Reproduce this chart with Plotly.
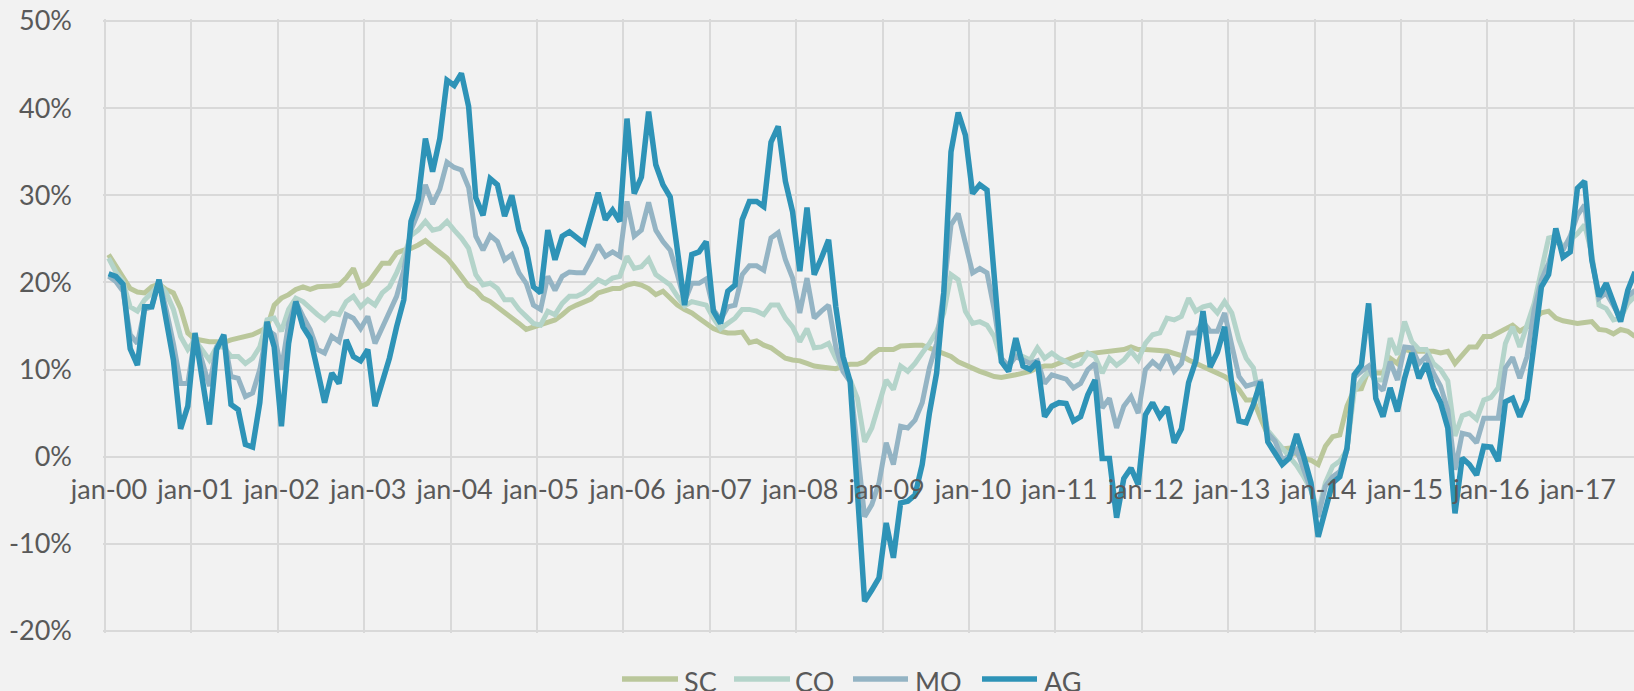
import plotly.graph_objects as go

# ---------------- data ----------------
MONTHS = ["jan", "feb", "mar", "apr", "maj", "jun", "jul", "aug", "sep", "okt", "nov", "dec"]
YEARS = list(range(0, 18))
categories = [f"{mo}-{y:02d}" for y in YEARS for mo in MONTHS][:213]
TICK_LABELS = [f"jan-{y:02d}" for y in YEARS]

SC = [23.2, 21.9, 20.7, 19.3, 18.9, 18.8, 19.5, 19.8, 19.2, 18.8, 17.0, 14.2,
      13.5, 13.3, 13.2, 13.2, 13.1, 13.4, 13.6, 13.7, 14.0, 14.4, 14.8, 17.4,
      18.2, 18.6, 19.2, 19.5, 19.2, 19.5, 19.5, 19.6, 19.7, 20.5, 21.6, 19.5,
      19.9, 21.1, 22.2, 22.2, 23.4, 23.7, 23.9, 24.3, 24.8, 24.1, 23.5, 22.8,
      21.8, 20.7, 19.6, 19.1, 18.2, 17.8, 17.2, 16.5, 15.9, 15.3, 14.6, 14.9,
      15.1, 15.5, 15.7, 16.3, 17.0, 17.4, 17.7, 18.1, 18.8, 19.1, 19.3, 19.3,
      19.7, 19.9, 19.7, 19.3, 18.6, 19.0, 18.2, 17.4, 16.9, 16.5, 15.9, 15.3,
      14.7, 14.4, 14.2, 14.2, 14.3, 13.1, 13.3, 12.8, 12.5, 11.9, 11.3, 11.1,
      11.0, 10.7, 10.4, 10.3, 10.2, 10.1, 10.4, 10.6, 10.6, 10.9, 11.7, 12.3,
      12.3, 12.3, 12.7, 12.8, 12.8, 12.8, 12.5, 12.1, 11.8, 11.5, 10.9, 10.5,
      10.1, 9.8, 9.5, 9.2, 9.1, 9.2, 9.4, 9.6, 9.8, 10.2, 10.4, 10.4,
      10.7, 11.0, 11.4, 11.7, 11.8, 11.9, 12.0, 12.2, 12.3, 12.3, 12.6, 12.3,
      12.3, 12.3, 12.2, 12.1, 11.8, 11.6, 11.1, 10.7, 10.4, 10.0, 9.5, 9.2,
      8.6, 7.7, 6.5, 6.5, 4.4, 2.5, 1.8, 0.9, 1.0, 0.3, -0.2, -0.4,
      -0.9, 1.2, 2.3, 2.5, 5.8, 7.7, 7.8, 10.0, 9.6, 9.6, 11.3, 10.7,
      12.3, 12.1, 12.1, 12.1, 12.1, 11.9, 12.1, 10.7, 11.7, 12.6, 12.6, 13.8,
      13.8, 14.2, 14.6, 15.1, 14.4, 14.9, 15.9, 16.5, 16.7, 15.9, 15.6, 15.4,
      15.3, 15.4, 15.5, 14.6, 14.5, 14.1, 14.6, 14.4, 13.8]

CO = [22.8, 21.2, 20.1, 17.2, 16.7, 18.0, 18.8, 19.9, 18.8, 16.9, 13.8, 12.3,
      13.4, 12.3, 11.1, 12.6, 12.6, 11.5, 11.5, 10.7, 11.3, 12.6, 15.7, 15.9,
      14.4, 16.9, 18.2, 17.8, 17.0, 16.3, 15.7, 16.5, 16.3, 17.8, 18.4, 17.2,
      18.0, 17.4, 18.8, 19.5, 21.1, 23.0, 25.4, 26.0, 27.0, 26.0, 26.2, 27.0,
      26.0, 25.1, 23.9, 20.9, 19.7, 19.9, 19.3, 18.0, 18.0, 16.9, 16.1, 15.3,
      15.1, 16.7, 16.3, 17.6, 18.4, 18.4, 18.8, 19.5, 20.3, 19.9, 20.5, 20.7,
      23.0, 21.6, 21.8, 22.7, 20.9, 20.3, 19.7, 18.4, 17.3, 17.8, 17.6, 17.4,
      15.9, 14.7, 15.3, 15.9, 16.9, 16.9, 16.7, 16.3, 17.4, 17.4, 15.9, 14.9,
      13.2, 14.7, 12.5, 12.6, 13.0, 11.3, 10.0, 8.8, 6.7, 1.7, 3.3, 6.2,
      8.8, 7.7, 10.4, 9.8, 10.7, 11.9, 13.0, 14.4, 16.5, 20.9, 20.3, 16.7,
      15.3, 15.5, 15.1, 13.8, 11.1, 10.4, 11.7, 11.5, 11.1, 12.5, 11.3, 11.9,
      11.3, 10.9, 10.4, 10.7, 11.9, 11.5, 9.6, 11.3, 10.5, 11.1, 12.1, 11.1,
      13.0, 14.0, 14.2, 15.9, 15.7, 16.1, 18.2, 16.7, 17.2, 17.4, 16.5, 17.8,
      16.5, 13.4, 11.3, 10.2, 6.0, 3.0, 2.0, 1.0, 0.0, -1.0, -2.3, -3.8,
      -6.3, -3.0, -1.1, -0.5, 0.8, 7.5, 8.8, 9.8, 8.8, 8.8, 13.6, 11.7,
      15.5, 13.2, 12.3, 12.3, 10.7, 10.0, 8.7, 2.4, 4.7, 5.0, 4.3, 6.5,
      6.8, 7.9, 13.0, 14.9, 12.6, 14.9, 17.6, 21.4, 25.1, 25.3, 24.1, 24.9,
      25.6, 26.6, 23.3, 17.4, 17.0, 15.7, 15.9, 17.6, 18.4]

MO = [20.7, 20.1, 19.0, 14.0, 13.0, 16.9, 17.2, 20.3, 16.9, 13.0, 8.4, 8.4,
      13.8, 10.7, 8.1, 12.6, 13.8, 9.2, 9.0, 6.9, 7.3, 10.0, 14.6, 14.0,
      10.0, 15.3, 17.8, 16.1, 14.6, 12.3, 11.9, 13.8, 13.2, 16.3, 15.9, 14.7,
      16.1, 13.0, 14.9, 16.5, 18.4, 21.4, 26.0, 28.0, 31.2, 29.0, 30.7, 33.8,
      33.2, 32.9, 30.9, 25.3, 23.7, 25.4, 24.7, 22.6, 23.2, 21.1, 19.9, 17.4,
      16.9, 20.7, 19.1, 20.7, 21.2, 21.1, 21.1, 22.6, 24.3, 23.0, 23.5, 23.0,
      29.3, 25.3, 26.0, 29.2, 26.0, 24.7, 23.7, 20.9, 17.8, 19.9, 19.9, 20.4,
      16.9, 15.7, 17.2, 17.4, 20.9, 21.9, 21.9, 21.4, 25.1, 25.7, 22.6, 20.5,
      16.5, 20.5, 15.9, 16.7, 17.4, 12.6, 9.8, 8.6, 1.0, -6.9, -5.5, -3.0,
      1.6, -0.9, 3.5, 3.3, 4.2, 6.2, 10.2, 13.0, 19.1, 26.6, 27.9, 24.7,
      21.1, 21.6, 21.1, 16.9, 11.3, 10.4, 11.5, 11.1, 10.7, 11.0, 8.4, 9.4,
      9.1, 8.9, 7.9, 8.4, 10.0, 10.7, 5.6, 6.7, 3.3, 5.8, 6.9, 5.0,
      10.0, 10.9, 10.2, 11.7, 9.8, 10.7, 14.2, 14.2, 15.5, 14.4, 14.4, 16.5,
      12.8, 9.2, 8.1, 8.3, 8.6, 2.7, 1.8, -0.3, 0.0, 0.8, -1.5, -3.8,
      -6.9, -3.4, -2.3, -1.7, 0.8, 9.1, 9.8, 10.4, 8.4, 7.6, 10.9, 8.8,
      12.6, 12.5, 10.7, 11.5, 9.6, 8.1, 5.4, -1.5, 2.7, 2.5, 1.6, 4.4,
      4.4, 4.4, 10.2, 11.4, 9.0, 11.5, 16.9, 20.3, 22.2, 25.1, 23.7, 25.3,
      27.7, 28.9, 22.6, 18.2, 18.8, 17.2, 15.9, 18.4, 19.1]

AG = [21.0, 20.7, 19.8, 12.4, 10.5, 17.2, 17.2, 20.3, 15.7, 11.1, 3.2, 5.8,
      14.2, 8.8, 3.7, 12.3, 14.0, 6.0, 5.4, 1.4, 1.1, 6.2, 15.5, 12.6,
      3.5, 13.0, 17.8, 14.9, 13.6, 10.0, 6.2, 9.6, 8.4, 13.4, 11.5, 11.0,
      12.3, 5.8, 8.8, 11.3, 14.9, 18.0, 27.0, 29.5, 36.5, 32.7, 36.5, 43.2,
      42.6, 44.0, 40.2, 29.7, 27.7, 31.9, 31.2, 27.6, 30.0, 26.0, 23.9, 19.5,
      18.8, 26.0, 22.6, 25.3, 25.8, 25.1, 24.5, 27.4, 30.3, 27.2, 28.3, 27.0,
      38.8, 30.2, 32.1, 39.6, 33.5, 31.2, 29.8, 23.7, 17.4, 23.2, 23.5, 24.7,
      16.7, 15.3, 19.0, 19.7, 27.2, 29.3, 29.3, 28.7, 36.1, 37.9, 31.6, 28.1,
      21.3, 28.6, 20.9, 22.8, 24.9, 17.2, 11.5, 8.6, -4.0, -16.6, -15.3, -13.9,
      -7.6, -11.6, -5.3, -5.1, -4.4, -0.9, 5.0, 9.6, 18.8, 35.0, 39.5, 36.9,
      30.2, 31.2, 30.6, 19.9, 10.9, 9.8, 13.6, 10.4, 10.0, 10.9, 4.6, 5.8,
      6.2, 6.1, 4.1, 4.6, 7.1, 8.8, -0.2, -0.2, -7.0, -2.5, -1.3, -3.2,
      4.8, 6.2, 4.6, 5.7, 1.6, 3.2, 8.5, 11.0, 16.7, 10.3, 12.0, 14.9,
      8.4, 4.1, 3.9, 6.0, 8.6, 1.7, 0.3, -0.9, -0.15, 2.6, 0.0, -3.0,
      -9.2, -5.9, -3.0, -2.3, 1.0, 9.4, 10.5, 17.6, 6.7, 4.6, 7.9, 5.2,
      9.0, 11.9, 9.0, 10.7, 7.9, 6.2, 3.3, -6.5, -0.15, -0.9, -2.1, 1.2,
      1.1, -0.5, 6.3, 6.7, 4.6, 6.6, 12.5, 19.5, 20.9, 26.2, 22.9, 23.5,
      30.8, 31.6, 22.6, 18.4, 19.9, 17.6, 15.5, 19.1, 21.2]

SERIES = [("SC", SC), ("CO", CO), ("MO", MO), ("AG", AG)]
COLORS = {"SC": "#BAC79B", "CO": "#B4D4CA", "MO": "#94B4C4", "AG": "#2E93B7"}
WIDTHS = {"SC": 5, "CO": 5, "MO": 5, "AG": 5.5}

# ---------------- figure ----------------
W, H = 1634, 691
PAD = 2                       # px of breathing room so edge gridlines are drawn
ML, MR, MT, MB = 105 - PAD, 0, 21 - PAD, 60 - PAD
PW, PH = W - ML - MR, H - MT - MB
FONT = "Lato, 'Open Sans', sans-serif"
FS = 27
TXT = "#595959"
GRID = "#D9D9D9"
MONTH_PX = 7.2
PCT_PX = 610 / 70.0          # pixels per percentage point

month_index = list(range(len(categories)))

fig = go.Figure()
for name, vals in SERIES:
    fig.add_trace(go.Scatter(
        x=month_index, y=vals, mode="lines", name=name, showlegend=False,
        text=categories, hovertemplate="%{text}: %{y:.1f}%<extra>" + name + "</extra>",
        line=dict(color=COLORS[name], width=WIDTHS[name]),
    ))

y_lo, y_hi = -20 - PAD / PCT_PX, 50 + PAD / PCT_PX
x_lo = -0.5 - PAD / MONTH_PX
x_hi = x_lo + PW / MONTH_PX
zero_pos = (0 - y_lo) / (y_hi - y_lo)
# year boundaries (gridlines) lie half a month before each January point
year_bounds = [12 * k - 0.5 for k in range(len(TICK_LABELS))]

fig.update_layout(
    width=W, height=H,
    margin=dict(l=ML, r=MR, t=MT, b=MB, pad=0),
    paper_bgcolor="#F2F2F2", plot_bgcolor="#F2F2F2",
    font=dict(family=FONT, size=FS, color=TXT),
    xaxis=dict(
        type="linear", range=[x_lo, x_hi],
        tickmode="array", tickvals=year_bounds, ticktext=TICK_LABELS,
        ticklabelshift=4, tickangle=0, ticks="",
        showgrid=True, gridcolor=GRID, gridwidth=1.5,
        showline=False, zeroline=False, automargin=False,
        anchor="free", position=zero_pos,
        tickfont=dict(family=FONT, size=FS, color=TXT),
        ticklabelstandoff=14,
    ),
    yaxis=dict(
        range=[y_lo, y_hi], tickmode="array", tickvals=list(range(-20, 51, 10)),
        ticktext=[f"{v}%" for v in range(-20, 51, 10)],
        showgrid=True, gridcolor=GRID, gridwidth=1.5,
        zeroline=False, showline=False, ticks="", automargin=False,
        tickfont=dict(family=FONT, size=FS, color=TXT),
        ticklabelstandoff=28 + PAD,
    ),
)

# custom legend (Excel-style, bottom center)
def px_to_paper_x(px):
    return (px - ML) / PW

def px_to_paper_y(py):
    return (H - MB - py) / PH

legend_items = [("SC", 622, 678, 682), ("CO", 734, 790, 793),
                ("MO", 853, 908, 913), ("AG", 982, 1037, 1042)]
ly = px_to_paper_y(679)
shapes = []
annotations = []
for name, x0, x1, tx in legend_items:
    shapes.append(dict(type="line", xref="paper", yref="paper",
                       x0=px_to_paper_x(x0), x1=px_to_paper_x(x1), y0=ly, y1=ly,
                       line=dict(color=COLORS[name], width=5.5)))
    annotations.append(dict(xref="paper", yref="paper", x=px_to_paper_x(tx), y=ly,
                            xanchor="left", yanchor="middle", yshift=-2, text=name,
                            showarrow=False, font=dict(family=FONT, size=FS, color=TXT)))
fig.update_layout(shapes=shapes, annotations=annotations)

fig.write_html(
    "out.html",
    config={"displayModeBar": False},
    post_script="document.body.style.margin='0px';"
                "document.body.style.overflow='hidden';"
                "document.body.style.background='#F2F2F2';",
)
